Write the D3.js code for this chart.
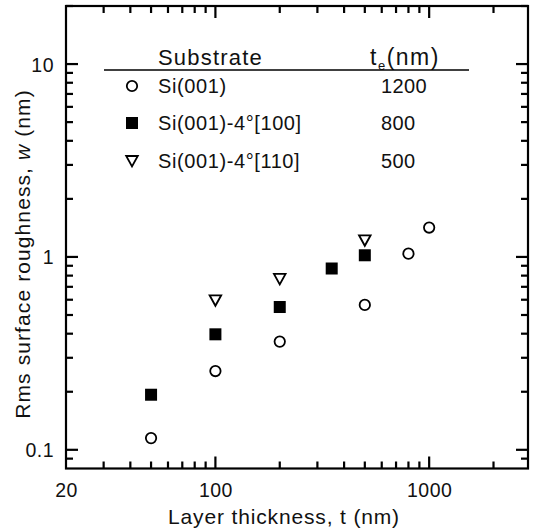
<!DOCTYPE html>
<html><head><meta charset="utf-8">
<script src="https://cdn.jsdelivr.net/npm/d3@7"></script>
<style>body{margin:0;background:#fff}svg{display:block}text{font-family:"Liberation Sans",Arial,sans-serif;fill:#111}</style>
</head><body><svg id="c" width="537" height="532"></svg>
<script>
const siT = [50, 100, 200, 500, 800, 1000];
const siW = [0.115, 0.256, 0.364, 0.564, 1.04, 1.42];
const s100T = [50, 100, 200, 350, 500];
const s100W = [0.193, 0.397, 0.55, 0.871, 1.02];
const s110T = [100, 200, 500];
const s110W = [0.596, 0.769, 1.22];
const legendNames = ["Si(001)", "Si(001)-4°[100]", "Si(001)-4°[110]"];
const legendTe = ["1200", "800", "500"];
const xTickLabels = [20, 100, 1000];
const yTickLabels = [0.1, 1, 10];
const xMaj = [100, 1000];
const xMin = [30, 40, 50, 60, 70, 80, 90, 200, 300, 400, 500, 600, 700, 800, 900, 2000];
const yMaj = [0.1, 1, 10];
const yMin = [0.09, 0.2, 0.3, 0.4, 0.5, 0.6, 0.7, 0.8, 0.9, 2, 3, 4, 5, 6, 7, 8, 9, 20];

const svg = d3.select("#c");
const L = 66, R = 528, T = 6, B = 468.5;
const x = d3.scaleLog().domain([20, 2900]).range([L, R]);
const y = d3.scaleLog().domain([0.08, 20]).range([B, T]);

const tk = svg.append("g").attr("fill","#000");
const tw = 2.2;
function vTicks(vals, len){
  vals.forEach(v=>{
    tk.append("rect").attr("x",x(v)-tw/2).attr("width",tw).attr("y",B-len).attr("height",len);
    tk.append("rect").attr("x",x(v)-tw/2).attr("width",tw).attr("y",T).attr("height",len);
  });
}
function hTicks(vals, len){
  vals.forEach(v=>{
    tk.append("rect").attr("y",y(v)-tw/2).attr("height",tw).attr("x",L).attr("width",len);
    tk.append("rect").attr("y",y(v)-tw/2).attr("height",tw).attr("x",R-len).attr("width",len);
  });
}
vTicks(xMaj, 12); vTicks(xMin, 7);
hTicks(yMaj, 12); hTicks(yMin, 7);

svg.append("rect").attr("x",L).attr("y",T).attr("width",R-L).attr("height",B-T)
  .attr("fill","none").attr("stroke","#000").attr("stroke-width",2.2);

// tick labels
const xl = svg.append("g").attr("transform",`translate(0,${B})`)
  .call(d3.axisBottom(x).tickValues(xTickLabels).tickSize(0).tickPadding(0).tickFormat(d3.format("d")));
xl.select(".domain").remove();
xl.selectAll("text").attr("y",28).attr("dy",0).attr("font-size",19.5).attr("letter-spacing",0.5)
  .attr("font-family","Liberation Sans, Arial, sans-serif").attr("fill","#111");
const ylab = svg.append("g").attr("transform",`translate(${L},0)`)
  .call(d3.axisLeft(y).tickValues(yTickLabels).tickSize(0).tickPadding(0).tickFormat(d=>String(d)));
ylab.select(".domain").remove();
ylab.selectAll("text").attr("x",-12).attr("dy","0.36em").attr("font-size",19.5).attr("letter-spacing",0.5)
  .attr("font-family","Liberation Sans, Arial, sans-serif").attr("fill","#111");

svg.append("text").attr("x",284).attr("y",524).attr("text-anchor","middle").attr("font-size",21).attr("letter-spacing",0.85)
  .text("Layer thickness, t (nm)");
const yl = svg.append("text").attr("transform",`translate(30,254) rotate(-90)`).attr("text-anchor","middle")
  .attr("font-size",21).attr("letter-spacing",1.1);
yl.append("tspan").text("Rms surface roughness, ");
yl.append("tspan").attr("font-style","italic").text("w");
yl.append("tspan").text(" (nm)");

const marks = svg.append("g");
function circle(sel,cx,cy){sel.append("circle").attr("cx",cx).attr("cy",cy).attr("r",5.2).attr("fill","#fff").attr("stroke","#000").attr("stroke-width",1.8);}
function square(sel,cx,cy){sel.append("rect").attr("x",cx-6).attr("y",cy-6).attr("width",12).attr("height",12).attr("fill","#000");}
function tri(sel,cx,cy){sel.append("path").attr("d",`M${cx-5.8},${cy-5}L${cx+5.8},${cy-5}L${cx},${cy+5.5}Z`).attr("fill","#fff").attr("stroke","#000").attr("stroke-width",1.8);}
siT.forEach((t,i)=>circle(marks,x(t),y(siW[i])));
s100T.forEach((t,i)=>square(marks,x(t),y(s100W[i])));
s110T.forEach((t,i)=>tri(marks,x(t),y(s110W[i])));

// legend
const lg = svg.append("g");
lg.append("text").attr("x",158).attr("y",65).attr("font-size",22).attr("letter-spacing",1.2).text("Substrate");
const te = lg.append("text").attr("x",370).attr("y",65).attr("font-size",23).attr("letter-spacing",1.5);
te.append("tspan").text("t");
te.append("tspan").attr("font-size",13).attr("dy",5).text("e");
te.append("tspan").attr("dy",-5).text("(nm)");
lg.append("line").attr("x1",104).attr("x2",469).attr("y1",70).attr("y2",70).attr("stroke","#000").attr("stroke-width",1.6);
const rowsY=[86,123,161];
const syms=[circle,square,tri];
legendNames.forEach((n,i)=>{
  syms[i](lg,132,rowsY[i]);
  lg.append("text").attr("x",158).attr("y",rowsY[i]+6.5).attr("font-size",20).attr("letter-spacing",0.6).text(n);
  lg.append("text").attr("x",381).attr("y",rowsY[i]+6.5).attr("font-size",20).attr("letter-spacing",0.4).text(legendTe[i]);
});
</script></body></html>
